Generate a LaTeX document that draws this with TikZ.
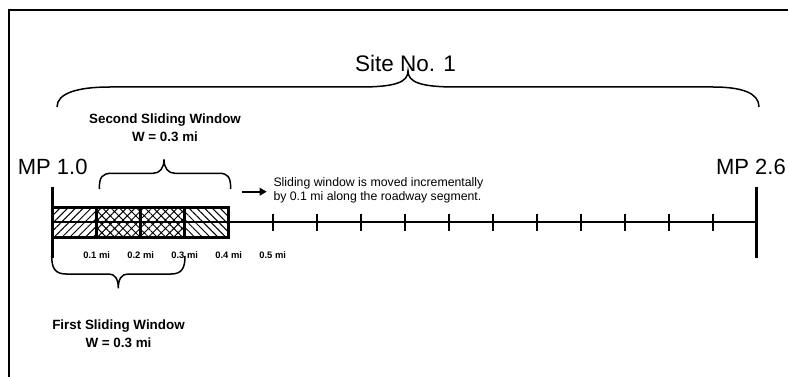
\documentclass[tikz,border=0pt]{standalone}
\usepackage{fontspec}
\setmainfont{Liberation Sans}
\usepackage{tikz}
\usetikzlibrary{arrows.meta,patterns.meta}
\tikzset{
  frm/.style={line width=1.6pt,black},
  road/.style={line width=1.5pt,black},
  mpbar/.style={line width=3.4pt,black},
  tickmark/.style={line width=1.8pt,black},
  winbox/.style={draw=black,line width=3pt},
  brc/.style={line width=1.5pt,black},
  pushar/.style={-{Triangle[length=7pt,width=7.5pt]},line width=2pt,black},
  mplbl/.style={font=\fontsize{22}{26}\selectfont,inner sep=0pt},
  sitelbl/.style={font=\fontsize{22.5}{27}\selectfont,inner sep=0pt},
  winlbl/.style={font=\bfseries\fontsize{13.4}{18}\selectfont,align=center,inner sep=0pt},
  milbl/.style={font=\bfseries\fontsize{9.4}{11}\selectfont,inner sep=0pt},
  note/.style={font=\fontsize{12.3}{13.4}\selectfont,align=left,inner sep=0pt}
}

\begin{document}
\begin{tikzpicture}[x=1pt,y=-1pt]
\useasboundingbox (0,0) rectangle (788,377);
\clip (0,0) rectangle (788,377);
\draw[frm] (9,10) rectangle (800,400);
% windows on the segment
\draw[winbox,pattern={Lines[angle=45,distance=5.5pt,line width=1pt]}] (52.7,207.3) rectangle (96.7,237.3);
\draw[winbox,pattern={Hatch[angle=45,distance=6pt,line width=1pt]}] (96.7,207.3) rectangle (140.7,237.3);
\draw[winbox,pattern={Hatch[angle=45,distance=6pt,line width=1pt]}] (140.7,207.3) rectangle (184.7,237.3);
\draw[winbox,pattern={Lines[angle=-45,distance=5.5pt,line width=1pt]}] (184.7,207.3) rectangle (228.7,237.3);
% roadway segment
\coordinate (s0) at (52.7,222);
\coordinate (s16) at (756.7,222);
\draw[road] (s0) -- (s16);
\foreach \k in {5,...,15}
  \draw[tickmark] (52.7+44*\k,214) -- (52.7+44*\k,231);
\draw[mpbar] (52.7,187) -- (52.7,258);
\draw[mpbar] (756.7,187) -- (756.7,258);
\foreach \k in {1,...,5}
  \node[milbl] (mi\k) at (52.7+44*\k,255) {0.\k\ mi};
\node[mplbl] (mpa) at (52.7,166.7) {MP 1.0};
\node[mplbl,anchor=east] (mpb) at (786,166.7) {MP 2.6};
% site brace
\node[sitelbl] (site) at (405.5,63) {Site No. 1};
\draw[brc] (57,107) .. controls (57,93) and (78,87) .. (110,87) -- (360,87)
  .. controls (396,87) and (408,82) .. (408,71) .. controls (408,82) and (420,87) .. (456,87)
  -- (713,87) .. controls (742,87) and (759,93) .. (759,107);
% second window
\node[winlbl] (win2) at (165,128) {Second Sliding Window\\W = 0.3 mi};
\draw[brc] (99.3,189) .. controls (99.3,177) and (102,173.3) .. (112,173.3) -- (153,173.3)
  .. controls (160,173.3) and (164,168) .. (164,159.5) .. controls (164,168) and (168,173.3) .. (175,173.3)
  -- (219,173.3) .. controls (228,173.3) and (230.7,177) .. (230.7,189);
% first window
\node[winlbl] (win1) at (118.5,333.7) {First Sliding Window\\W = 0.3 mi};
\draw[brc] (51.7,256) .. controls (51.7,268) and (55,274) .. (66,274) -- (109,274)
  .. controls (115,274) and (118.3,279) .. (118.3,288.3) .. controls (118.3,279) and (121.6,274) .. (128,274)
  -- (171,274) .. controls (182,274) and (185,268) .. (185,256);
% moving note
\node[note,anchor=west] (note) at (273.3,190.5) {Sliding window is moved incrementally\\by 0.1 mi along the roadway segment.};
\coordinate (arr0) at (241.7,191.7);
\draw[pushar,shorten >=6.6pt] (arr0) -- (arr0 -| note.west);
\end{tikzpicture}
\end{document}
